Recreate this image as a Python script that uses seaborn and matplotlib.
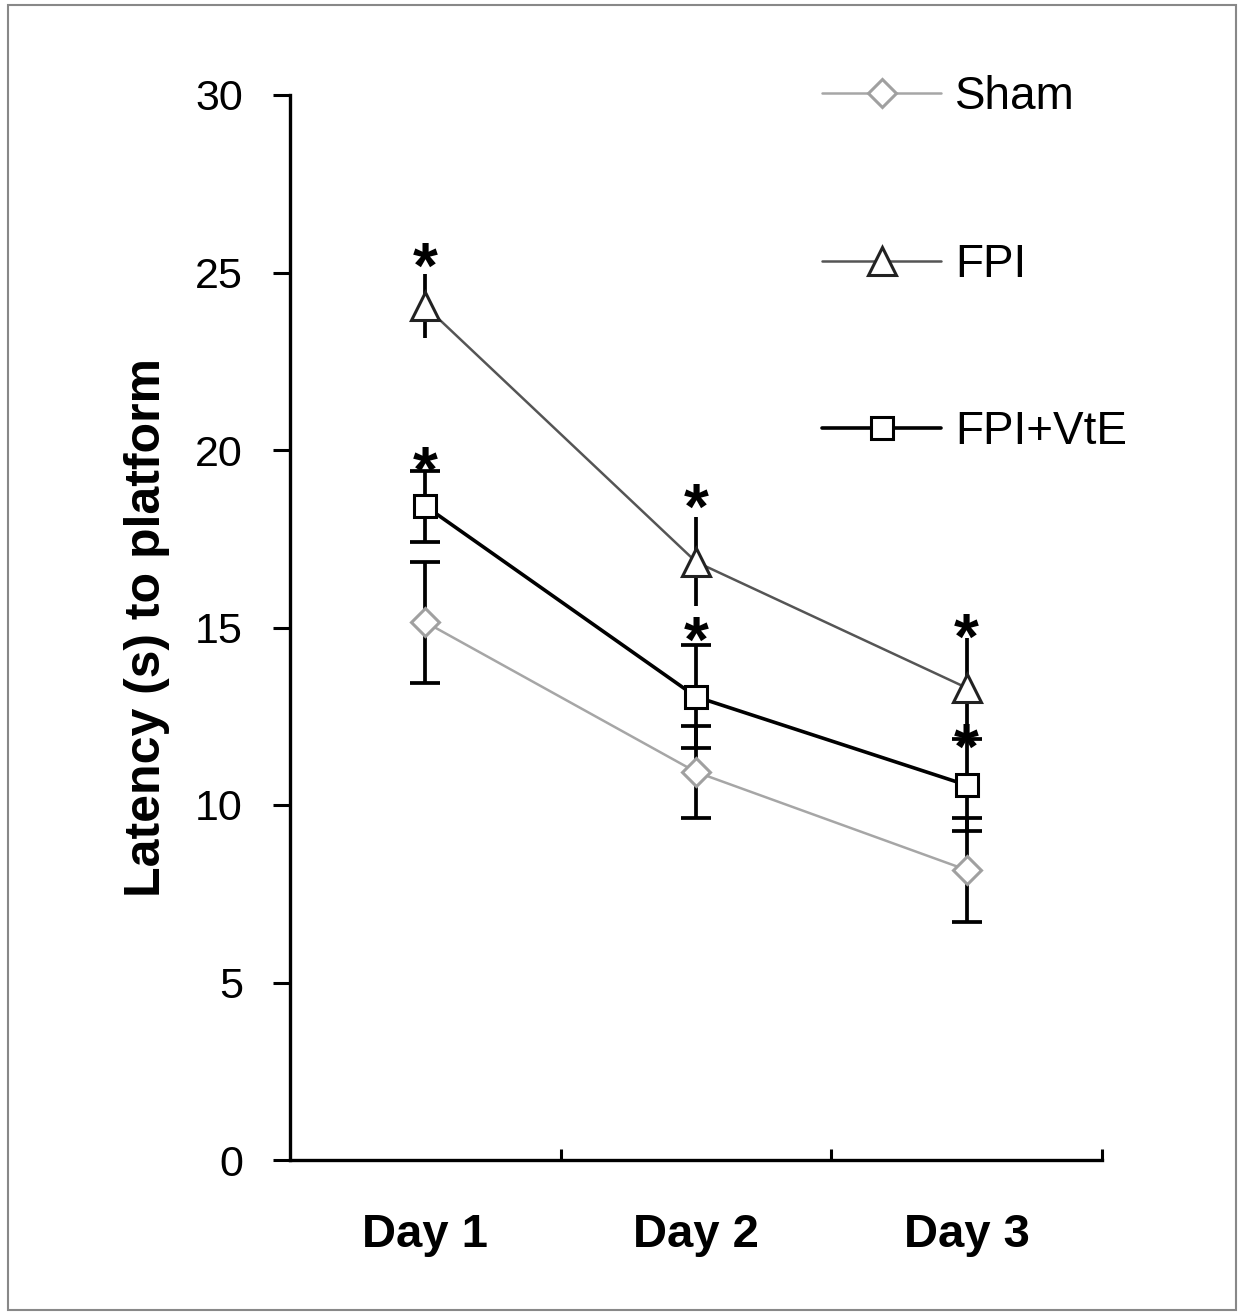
import matplotlib
matplotlib.use("Agg")
import matplotlib.pyplot as plt
import seaborn as sns
import pandas as pd
import numpy as np
from matplotlib.lines import Line2D
from matplotlib.patches import Rectangle

# ---- data ----
days = ["Day 1", "Day 2", "Day 3"]
groups = ["Sham", "FPI", "FPI+VtE"]
sham_mean = [15.15, 10.93, 8.17]
sham_err = [1.70, 1.30, 1.46]
fpi_mean = [24.05, 16.85, 13.30]
fpi_err = [0.90, 1.25, 1.40]
vte_mean = [18.42, 13.05, 10.56]
vte_err = [1.00, 1.45, 1.30]
fpi_star = [25.45, 18.65, 15.00]
vte_star = [19.70, 14.90, 11.90]
yticks = [0, 5, 10, 15, 20, 25, 30]

means = {"Sham": sham_mean, "FPI": fpi_mean, "FPI+VtE": vte_mean}
errs = {"Sham": sham_err, "FPI": fpi_err, "FPI+VtE": vte_err}

df = pd.DataFrame({
    "day": np.tile(np.arange(len(days)), len(groups)),
    "group": np.repeat(groups, len(days)),
    "latency": sham_mean + fpi_mean + vte_mean,
})

sns.set_theme(style="white")
plt.rcParams['font.family'] = ['Liberation Sans', 'DejaVu Sans']
for k in ["text.color", "axes.labelcolor", "xtick.color", "ytick.color"]:
    plt.rcParams[k] = "black"

fig = plt.figure(figsize=(12.44, 13.15), dpi=100)
ax = fig.add_axes([290/1244, 1 - 1160/1315, 812/1244, 1065/1315])

line_col = {"Sham": "#a6a6a6", "FPI": "#555555", "FPI+VtE": "#000000"}
edge_col = {"Sham": "#a0a0a0", "FPI": "#222222", "FPI+VtE": "#000000"}
markers = {"Sham": "D", "FPI": "^", "FPI+VtE": "s"}
msize = {"Sham": 14, "FPI": 20, "FPI+VtE": 16}
lw = {"Sham": 1.8, "FPI": 1.8, "FPI+VtE": 2.6}
caps = {"Sham": 11, "FPI": 0, "FPI+VtE": 11}

x = np.arange(len(days))
# error bars
for g in groups:
    ax.errorbar(x, means[g], yerr=errs[g], fmt="none", ecolor="black",
                elinewidth=2.7, capsize=caps[g], capthick=2.7, zorder=2)

# lines via seaborn
for g in groups:
    sub = df[df.group == g]
    sns.lineplot(data=sub, x="day", y="latency", ax=ax, color=line_col[g],
                 linewidth=lw[g], marker=markers[g], markersize=msize[g],
                 markerfacecolor="white", markeredgecolor=edge_col[g],
                 markeredgewidth=2.2, legend=False, zorder=3)

# asterisks
star_fs = 46
for ys in [fpi_star, vte_star]:
    for xi, yi in zip(x, ys):
        ax.annotate("*", xy=(xi, yi), xytext=(0, -0.22 * star_fs),
                    textcoords="offset points", ha="center", va="center",
                    fontsize=star_fs, fontweight="bold", color="black", zorder=4)

ax.set_xlim(-0.5, 2.5)
ax.set_ylim(0, 30)
ax.set_yticks(yticks)
ax.set_yticklabels([str(t) for t in yticks], fontsize=31)
ax.set_xticks(x)
ax.set_xticklabels(days, fontsize=34, fontweight="bold")
ax.set_xticks([0.5, 1.5, 2.5], minor=True)
ax.tick_params(axis="x", which="major", length=0, pad=38)
ax.tick_params(axis="x", which="minor", direction="in", length=8, width=2.2,
               color="black", bottom=True)
ax.tick_params(axis="y", which="major", direction="out", length=12, width=2.2,
               color="black", pad=22, left=True)
ax.set_xlabel("")
ax.set_ylabel("Latency (s) to platform", fontsize=36, fontweight="bold", labelpad=18)
for s in ["top", "right"]:
    ax.spines[s].set_visible(False)
for s in ["left", "bottom"]:
    ax.spines[s].set_color("black")
    ax.spines[s].set_linewidth(2.4)

# legend
handles = [Line2D([0], [0], color=line_col[g], lw=lw[g], marker=markers[g],
                  markersize=msize[g], markerfacecolor="white",
                  markeredgecolor=edge_col[g], markeredgewidth=2.2) for g in groups]
leg = fig.legend(handles, groups, loc="upper left",
                 bbox_to_anchor=(822/1244, 1 - 75/1315), frameon=False,
                 fontsize=33, handlelength=2.6, handletextpad=0.3,
                 labelspacing=2.7, borderpad=0, borderaxespad=0)

# figure border
fig.patches.append(Rectangle((8/1244, 5/1315), 1 - 16/1244, 1 - 10/1315,
                             transform=fig.transFigure, fill=False,
                             edgecolor="#888888", linewidth=1.5))

fig.savefig("out.png", dpi=100, facecolor="white")
